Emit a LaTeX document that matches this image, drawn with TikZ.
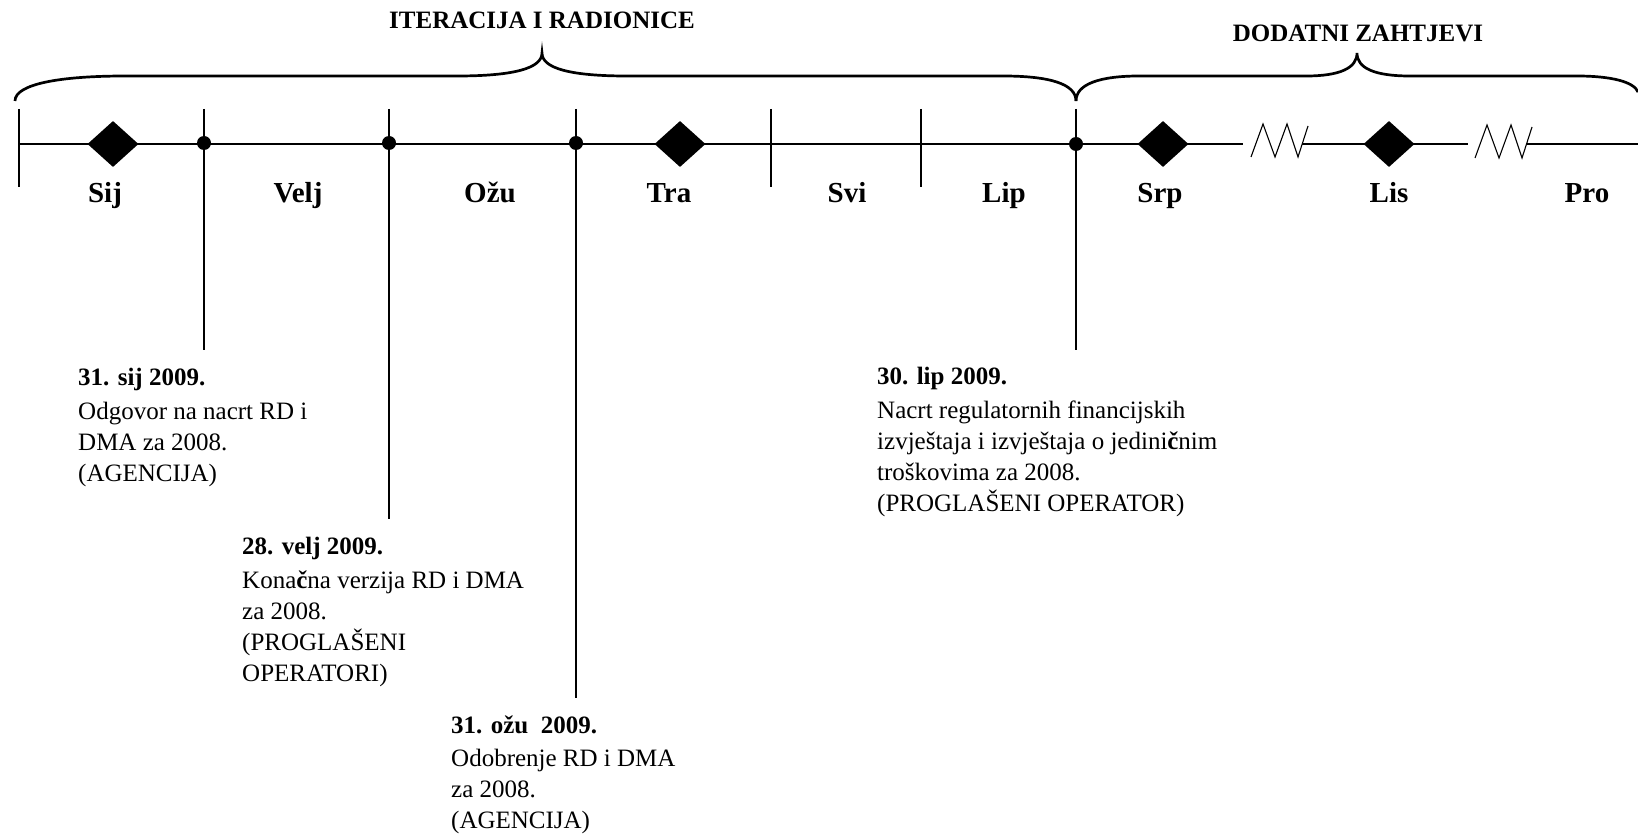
\documentclass[tikz,border=0pt]{standalone}
\usepackage{fontspec}
\setmainfont{Liberation Serif}
\usetikzlibrary{shapes.geometric}
\begin{document}
\begin{tikzpicture}[x=1pt,y=-1pt,
  axisline/.style={line width=2.6pt},
  tickline/.style={line width=2.6pt},
  bracepath/.style={line width=2.7pt},
  zig/.style={line width=1.1pt, line join=miter},
  milestone/.style={diamond, fill=black, draw=none, minimum width=51pt, minimum height=46pt, inner sep=0pt},
  deadline/.style={circle, fill=black, minimum size=14pt, inner sep=0pt},
  month/.style={font=\fontsize{29}{33}\selectfont\bfseries, anchor=base, inner sep=0pt},
  phase/.style={font=\fontsize{25}{30}\selectfont\bfseries, anchor=base, inner sep=0pt},
  note/.style={font=\fontsize{25}{31}\selectfont, anchor=north west, align=left, inner sep=0pt},
]
\useasboundingbox (0,0) rectangle (1638,834);

% phase titles
\node[phase] (ph1) at (542,29) {ITERACIJA I RADIONICE};
\node[phase] (ph2) at (1358,42) {DODATNI ZAHTJEVI};

% braces over the phases
\draw[bracepath] (15,101) .. controls (15,84) and (60,76) .. (125,76) -- (457,76)
  .. controls (515,76) and (542,68) .. (542,53)
  .. controls (542,68) and (569,76) .. (627,76) -- (1003,76)
  .. controls (1050,76) and (1076,84) .. (1076,101);
\draw[bracepath] (1076,101) .. controls (1076,84) and (1100,76) .. (1139,76) -- (1306,76)
  .. controls (1340,76) and (1357,68) .. (1357,53)
  .. controls (1357,68) and (1374,76) .. (1410,76) -- (1577,76)
  .. controls (1612,76) and (1634,82) .. (1638,92);

% axis anchor points
\coordinate (a0) at (19,144);
\coordinate (a1) at (1243,144);
\coordinate (b0) at (1302,144);
\coordinate (b1) at (1468,144);
\coordinate (c0) at (1527,144);
\coordinate (c1) at (1638,144);

% tick ends
\coordinate (t0u) at (19,109);   \coordinate (t0d) at (19,187);
\coordinate (t1u) at (204,109);  \coordinate (t1d) at (204,350);
\coordinate (t2u) at (389,109);  \coordinate (t2d) at (389,519);
\coordinate (t3u) at (576,109);  \coordinate (t3d) at (576,698);
\coordinate (t4u) at (771,109);  \coordinate (t4d) at (771,187);
\coordinate (t5u) at (921,109);  \coordinate (t5d) at (921,187);
\coordinate (t6u) at (1076,109); \coordinate (t6d) at (1076,350);

% axis
\draw[axisline] (a0) -- (a1);
\draw[axisline] (b0) -- (b1);
\draw[axisline] (c0) -- (c1);

% ticks
\draw[tickline] (t0u) -- (t0d);
\draw[tickline] (t1u) -- (t1d);
\draw[tickline] (t2u) -- (t2d);
\draw[tickline] (t3u) -- (t3d);
\draw[tickline] (t4u) -- (t4d);
\draw[tickline] (t5u) -- (t5d);
\draw[tickline] (t6u) -- (t6d);

% breaks in the time scale
\draw[zig] (1251,157) -- (1263,124) -- (1275,157) -- (1287,124) -- (1298,157) -- (1308,126);
\draw[zig] (1475,158) -- (1487,125) -- (1499,158) -- (1511,125) -- (1522,158) -- (1532,127);

% milestones
\node[milestone] (m1) at (113,144) {};
\node[milestone] (m2) at (680,144) {};
\node[milestone] (m3) at (1163,144) {};
\node[milestone] (m4) at (1389,144) {};

% deadlines
\node[deadline] (d1) at (204,143) {};
\node[deadline] (d2) at (389,143) {};
\node[deadline] (d3) at (576,143) {};
\node[deadline] (d6) at (1076,144) {};

% months
\node[month] (mSij) at (105,203) {Sij};
\node[month] (mVelj) at (298,203) {Velj};
\node[month] (mOzu) at (490,203) {Ožu};
\node[month] (mTra) at (669,203) {Tra};
\node[month] (mSvi) at (847,203) {Svi};
\node[month] (mLip) at (1004,203) {Lip};
\node[month] (mSrp) at (1160,203) {Srp};
\node[month] (mLis) at (1389,203) {Lis};
\node[month] (mPro) at (1587,203) {Pro};

% deadline notes
\node[note] (n1) at (78,365) {\rule{0pt}{20pt}\textbf{31. sij 2009.}\\[3pt]
  Odgovor na nacrt RD i\\ DMA za 2008.\\ (AGENCIJA)};
\node[note] (n2) at (242,534) {\rule{0pt}{20pt}\textbf{28. velj 2009.}\\[3pt]
  Kona\textbf{č}na verzija RD i DMA\\ za 2008.\\ (PROGLAŠENI\\ OPERATORI)};
\node[note] (n3) at (451,713) {\rule{0pt}{20pt}\textbf{31. ožu~~2009.}\\[2pt]
  Odobrenje RD i DMA\\ za 2008.\\ (AGENCIJA)};
\node[note] (n4) at (877,364) {\rule{0pt}{20pt}\textbf{30. lip 2009.}\\[3pt]
  Nacrt regulatornih financijskih\\ izvještaja i izvještaja o jedini\textbf{č}nim\\
  troškovima za 2008.\\ (PROGLAŠENI OPERATOR)};
\end{tikzpicture}
\end{document}
